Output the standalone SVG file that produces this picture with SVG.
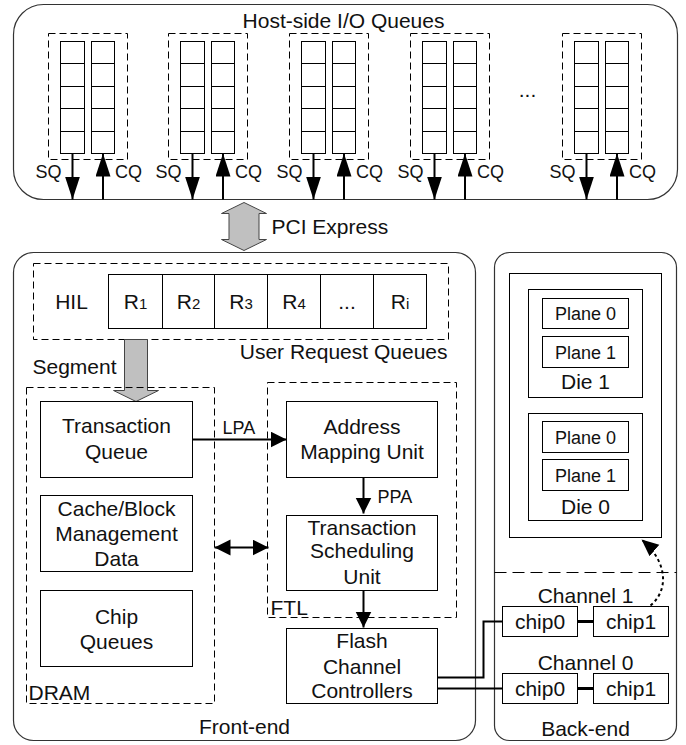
<svg xmlns="http://www.w3.org/2000/svg" width="686" height="745" viewBox="0 0 686 745">
<style>
.t{font-family:"Liberation Sans",Arial,sans-serif;font-size:21px;fill:#111}
.s{font-size:18px}
.m{text-anchor:middle}
.box{fill:#fff;stroke:#000;stroke-width:1}
.dash{fill:none;stroke:#000;stroke-width:1;stroke-dasharray:7 4}
.frame{fill:#fff;stroke:#333;stroke-width:1.2}
.gray{fill:#c0c0c0;stroke:#444;stroke-width:1}
.ln{fill:none;stroke:#000;stroke-width:2}
.cell{stroke:#000;stroke-width:1}
</style>
<defs>
<marker id="big" markerUnits="userSpaceOnUse" markerWidth="24" markerHeight="16" refX="23" refY="7.5" orient="auto"><path d="M0,0 L23,7.5 L0,15 z" fill="#000"/></marker>
<marker id="mid" markerUnits="userSpaceOnUse" markerWidth="17" markerHeight="17" refX="16" refY="8" orient="auto-start-reverse"><path d="M0,0 L16,8 L0,16 z" fill="#000"/></marker>
<marker id="cur" markerUnits="userSpaceOnUse" markerWidth="18" markerHeight="16" refX="17" refY="7.5" orient="auto"><path d="M0,0 L17,7.5 L0,15 z" fill="#000"/></marker>
</defs>
<g transform="translate(0.5,0.5)">
<!-- frames -->
<g id="host">
<rect class="frame" x="13" y="4" width="664" height="195" rx="30"/>
<text class="t m" x="343" y="27">Host-side I/O Queues</text>
<text class="t m" x="527" y="96">...</text>
</g>
<g id="frontend">
<rect class="frame" x="13" y="252" width="462" height="488" rx="20"/>
<text class="t m" x="244" y="733">Front-end</text>
</g>
<g id="backend">
<rect class="frame" x="494" y="252" width="182" height="488" rx="15"/>
<text class="t m" x="585" y="735">Back-end</text>
<line x1="494" y1="572" x2="676" y2="572" stroke="#000" stroke-width="1.2" stroke-dasharray="12 6"/>
</g>

<!-- queue pairs -->
<g id="q1" transform="translate(48,0)">
<rect class="dash" x="0" y="33" width="79" height="126"/>
<rect class="box" x="12" y="41" width="24" height="112"/>
<rect class="box" x="43" y="41" width="23" height="112"/>
<path class="cell" d="M12,63H36M12,86H36M12,108H36M12,131H36M43,63H66M43,86H66M43,108H66M43,131H66"/>
<line class="ln" x1="24" y1="153" x2="24" y2="199" marker-end="url(#big)"/>
<line class="ln" x1="54.5" y1="199" x2="54.5" y2="153" marker-end="url(#big)"/>
<text class="t m" x="0" y="177" style="font-size:18px">SQ</text>
<text class="t m" x="80" y="177" style="font-size:18px">CQ</text>
</g>
<g id="q2" transform="translate(168,0)">
<rect class="dash" x="0" y="33" width="79" height="126"/>
<rect class="box" x="12" y="41" width="24" height="112"/>
<rect class="box" x="43" y="41" width="23" height="112"/>
<path class="cell" d="M12,63H36M12,86H36M12,108H36M12,131H36M43,63H66M43,86H66M43,108H66M43,131H66"/>
<line class="ln" x1="24" y1="153" x2="24" y2="199" marker-end="url(#big)"/>
<line class="ln" x1="54.5" y1="199" x2="54.5" y2="153" marker-end="url(#big)"/>
<text class="t m" x="0" y="177" style="font-size:18px">SQ</text>
<text class="t m" x="80" y="177" style="font-size:18px">CQ</text>
</g>
<g id="q3" transform="translate(289,0)">
<rect class="dash" x="0" y="33" width="79" height="126"/>
<rect class="box" x="12" y="41" width="24" height="112"/>
<rect class="box" x="43" y="41" width="23" height="112"/>
<path class="cell" d="M12,63H36M12,86H36M12,108H36M12,131H36M43,63H66M43,86H66M43,108H66M43,131H66"/>
<line class="ln" x1="24" y1="153" x2="24" y2="199" marker-end="url(#big)"/>
<line class="ln" x1="54.5" y1="199" x2="54.5" y2="153" marker-end="url(#big)"/>
<text class="t m" x="0" y="177" style="font-size:18px">SQ</text>
<text class="t m" x="80" y="177" style="font-size:18px">CQ</text>
</g>
<g id="q4" transform="translate(410,0)">
<rect class="dash" x="0" y="33" width="79" height="126"/>
<rect class="box" x="12" y="41" width="24" height="112"/>
<rect class="box" x="43" y="41" width="23" height="112"/>
<path class="cell" d="M12,63H36M12,86H36M12,108H36M12,131H36M43,63H66M43,86H66M43,108H66M43,131H66"/>
<line class="ln" x1="24" y1="153" x2="24" y2="199" marker-end="url(#big)"/>
<line class="ln" x1="54.5" y1="199" x2="54.5" y2="153" marker-end="url(#big)"/>
<text class="t m" x="0" y="177" style="font-size:18px">SQ</text>
<text class="t m" x="80" y="177" style="font-size:18px">CQ</text>
</g>
<g id="q5" transform="translate(562,0)">
<rect class="dash" x="0" y="33" width="79" height="126"/>
<rect class="box" x="12" y="41" width="24" height="112"/>
<rect class="box" x="43" y="41" width="23" height="112"/>
<path class="cell" d="M12,63H36M12,86H36M12,108H36M12,131H36M43,63H66M43,86H66M43,108H66M43,131H66"/>
<line class="ln" x1="24" y1="153" x2="24" y2="199" marker-end="url(#big)"/>
<line class="ln" x1="54.5" y1="199" x2="54.5" y2="153" marker-end="url(#big)"/>
<text class="t m" x="0" y="177" style="font-size:18px">SQ</text>
<text class="t m" x="80" y="177" style="font-size:18px">CQ</text>
</g>

<!-- PCI Express -->
<g id="pcie">
<polygon class="gray" points="243.5,202 266,213 258.5,213 258.5,239 266,239 243.5,250 221,239 228.5,239 228.5,213 221,213"/>
<text class="t" x="271" y="233">PCI Express</text>
</g>

<!-- HIL -->
<g id="hil">
<rect class="dash" x="33" y="263" width="415" height="76"/>
<text class="t m" x="71" y="308">HIL</text>
<rect class="box" x="108" y="274" width="318" height="54"/>
<path class="cell" d="M162,274V328M214,274V328M267,274V328M320,274V328M373,274V328"/>
<text class="t m" x="135" y="308">R<tspan style="font-size:15px">1</tspan></text>
<text class="t m" x="188" y="308">R<tspan style="font-size:15px">2</tspan></text>
<text class="t m" x="240.5" y="308">R<tspan style="font-size:15px">3</tspan></text>
<text class="t m" x="293.5" y="308">R<tspan style="font-size:15px">4</tspan></text>
<text class="t m" x="346.5" y="308">...</text>
<text class="t m" x="399.5" y="308">R<tspan style="font-size:15px">i</tspan></text>
<text class="t" x="447" y="358" style="text-anchor:end">User Request Queues</text>
</g>

<!-- Segment -->
<g id="segment">
<polygon class="gray" points="124,339 147,339 147,390 158,390 135.5,401 113,390 124,390"/>
<text class="t" x="32" y="373">Segment</text>
</g>

<!-- DRAM -->
<g id="dram">
<rect class="dash" x="26" y="387" width="188" height="316"/>
<text class="t" x="28" y="699">DRAM</text>
</g>
<g id="tq">
<rect class="box" x="40" y="401" width="152" height="76"/>
<text class="t m" x="116" y="432">Transaction</text>
<text class="t m" x="116" y="458">Queue</text>
</g>
<g id="cache">
<rect class="box" x="40" y="495" width="152" height="76"/>
<text class="t m" x="116" y="515">Cache/Block</text>
<text class="t m" x="116" y="540">Management</text>
<text class="t m" x="116" y="565">Data</text>
</g>
<g id="chipq">
<rect class="box" x="40" y="590" width="152" height="76"/>
<text class="t m" x="116" y="623">Chip</text>
<text class="t m" x="116" y="648">Queues</text>
</g>

<!-- FTL -->
<g id="ftl">
<rect class="dash" x="267" y="382" width="189" height="235"/>
<text class="t" x="270" y="614">FTL</text>
</g>
<g id="amu">
<rect class="box" x="286" y="401" width="151" height="76"/>
<text class="t m" x="361.5" y="433">Address</text>
<text class="t m" x="361.5" y="458">Mapping Unit</text>
</g>
<g id="tsu">
<rect class="box" x="286" y="515" width="151" height="75"/>
<text class="t m" x="361.5" y="534">Transaction</text>
<text class="t m" x="361.5" y="557">Scheduling</text>
<text class="t m" x="361.5" y="583">Unit</text>
</g>
<g id="fcc">
<rect class="box" x="286" y="628" width="151" height="75"/>
<text class="t m" x="361.5" y="647">Flash</text>
<text class="t m" x="361.5" y="673">Channel</text>
<text class="t m" x="361.5" y="697">Controllers</text>
</g>

<!-- back-end chip -->
<g id="chip">
<rect class="box" x="509" y="273" width="152" height="264"/>
</g>
<g id="die1">
<rect class="box" x="528" y="289" width="114" height="108"/>
<rect class="box" x="542" y="298" width="86" height="30"/>
<text class="t m s" x="585" y="319">Plane 0</text>
<rect class="box" x="542" y="336" width="86" height="31"/>
<text class="t m s" x="585" y="358">Plane 1</text>
<text class="t m" x="585" y="388">Die 1</text>
</g>
<g id="die0">
<rect class="box" x="528" y="413" width="114" height="107"/>
<rect class="box" x="542" y="421" width="86" height="31"/>
<text class="t m s" x="585" y="443">Plane 0</text>
<rect class="box" x="542" y="459" width="86" height="31"/>
<text class="t m s" x="585" y="481">Plane 1</text>
<text class="t m" x="585" y="513">Die 0</text>
</g>
<g id="ch1">
<text class="t m" x="585" y="602">Channel 1</text>
<rect class="box" x="502" y="606" width="75" height="30"/>
<text class="t m" x="539.5" y="628">chip0</text>
<rect class="box" x="593" y="606" width="75" height="30"/>
<text class="t m" x="630.5" y="628">chip1</text>
</g>
<g id="ch0">
<text class="t m" x="585" y="669">Channel 0</text>
<rect class="box" x="502" y="673" width="75" height="30"/>
<text class="t m" x="539.5" y="695">chip0</text>
<rect class="box" x="593" y="673" width="75" height="30"/>
<text class="t m" x="630.5" y="695">chip1</text>
</g>

<!-- connectors -->
<g id="connectors">
<line class="ln" x1="192" y1="439" x2="286" y2="439" stroke-width="1.5" marker-end="url(#mid)"/>
<line class="ln" x1="214" y1="547" x2="268" y2="547" stroke-width="1.5" marker-start="url(#mid)" marker-end="url(#mid)"/>
<line class="ln" x1="363" y1="477" x2="363" y2="513" stroke-width="1.5" marker-end="url(#mid)"/>
<line class="ln" x1="363" y1="590" x2="363" y2="627" stroke-width="1.5" marker-end="url(#mid)"/>
<path class="ln" d="M437,677H483V621H502"/>
<path class="ln" d="M437,688H502"/>
<line x1="577" y1="621" x2="593" y2="621" stroke="#000" stroke-width="3"/>
<line x1="577" y1="688" x2="593" y2="688" stroke="#000" stroke-width="3"/>
<path d="M650,605 C668,590 668,562 641,539" fill="none" stroke="#000" stroke-width="2" stroke-dasharray="3 3" marker-end="url(#cur)"/>
<text class="t s" x="222" y="433">LPA</text>
<text class="t s" x="377" y="502">PPA</text>
</g>
</g>
</svg>
